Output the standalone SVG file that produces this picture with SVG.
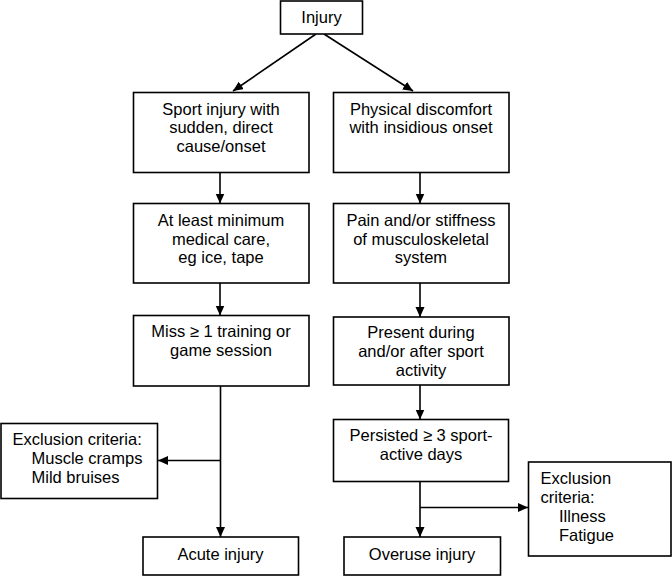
<svg xmlns="http://www.w3.org/2000/svg" width="672" height="576" viewBox="0 0 672 576">
<style>
.box{fill:#fff;stroke:#000;stroke-width:1.6}
.t{font-family:"Liberation Sans",Arial,sans-serif;font-size:16.5px;fill:#000}
.c{text-anchor:middle}
.ln{stroke:#000;stroke-width:1.6;fill:none}
</style>
<defs>
<marker id="ah" markerUnits="userSpaceOnUse" markerWidth="11" markerHeight="10" refX="10" refY="4.5" orient="auto">
<path d="M0,0 L10,4.5 L0,9 z" fill="#000"/>
</marker>
</defs>
<rect width="672" height="576" fill="#fff"/>
<g id="connectors">
<line class="ln" x1="316" y1="34" x2="233" y2="91" marker-end="url(#ah)"/>
<line class="ln" x1="324" y1="34" x2="413" y2="91" marker-end="url(#ah)"/>
<line class="ln" x1="220" y1="173" x2="220" y2="203.5" marker-end="url(#ah)"/>
<line class="ln" x1="420" y1="173" x2="420" y2="203.5" marker-end="url(#ah)"/>
<line class="ln" x1="220" y1="283" x2="220" y2="315.5" marker-end="url(#ah)"/>
<line class="ln" x1="420" y1="283" x2="420" y2="317" marker-end="url(#ah)"/>
<line class="ln" x1="220.5" y1="386" x2="220.5" y2="537" marker-end="url(#ah)"/>
<line class="ln" x1="220.5" y1="460.5" x2="158" y2="460.5" marker-end="url(#ah)"/>
<line class="ln" x1="420" y1="385" x2="420" y2="419.5" marker-end="url(#ah)"/>
<line class="ln" x1="420" y1="481.5" x2="420" y2="537" marker-end="url(#ah)"/>
<line class="ln" x1="420" y1="507.5" x2="528" y2="507.5" marker-end="url(#ah)"/>
</g>
<g id="injury">
<rect class="box" x="280.5" y="1" width="82" height="33"/>
<text class="t c" x="321.5" y="23">Injury</text>
</g>
<g id="sport">
<rect class="box" x="133.5" y="92.5" width="175.5" height="80"/>
<text class="t c" x="221" y="114.5">Sport injury with</text>
<text class="t c" x="221" y="133">sudden, direct</text>
<text class="t c" x="221" y="152">cause/onset</text>
</g>
<g id="physical">
<rect class="box" x="333.5" y="92.5" width="175.5" height="80"/>
<text class="t c" x="421" y="114.5">Physical discomfort</text>
<text class="t c" x="421" y="133">with insidious onset</text>
</g>
<g id="care">
<rect class="box" x="133.5" y="203.5" width="175.5" height="79.5"/>
<text class="t c" x="221" y="225.5">At least minimum</text>
<text class="t c" x="221" y="244.5">medical care,</text>
<text class="t c" x="221" y="263">eg ice, tape</text>
</g>
<g id="pain">
<rect class="box" x="333.5" y="203.5" width="175.5" height="79.5"/>
<text class="t c" x="421" y="225.5">Pain and/or stiffness</text>
<text class="t c" x="421" y="244.5">of musculoskeletal</text>
<text class="t c" x="421" y="263">system</text>
</g>
<g id="miss">
<rect class="box" x="133.5" y="315.5" width="175.5" height="70.5"/>
<text class="t c" x="221" y="336.5">Miss ≥ 1 training or</text>
<text class="t c" x="221" y="355.5">game session</text>
</g>
<g id="present">
<rect class="box" x="333.5" y="317" width="175.5" height="68"/>
<text class="t c" x="421" y="337.5">Present during</text>
<text class="t c" x="421" y="356.5">and/or after sport</text>
<text class="t c" x="421" y="376">activity</text>
</g>
<g id="excl-left">
<rect class="box" x="1" y="423.5" width="156.5" height="75"/>
<text class="t" x="12.5" y="445">Exclusion criteria:</text>
<text class="t" x="31.5" y="464">Muscle cramps</text>
<text class="t" x="31.5" y="483">Mild bruises</text>
</g>
<g id="persisted">
<rect class="box" x="333.5" y="419.5" width="175" height="62"/>
<text class="t c" x="421" y="441">Persisted ≥ 3 sport-</text>
<text class="t c" x="421" y="460">active days</text>
</g>
<g id="excl-right">
<rect class="box" x="528.5" y="462" width="142.5" height="94"/>
<text class="t" x="540.5" y="484">Exclusion</text>
<text class="t" x="540.5" y="503">criteria:</text>
<text class="t" x="559" y="521.5">Illness</text>
<text class="t" x="559" y="540.5">Fatigue</text>
</g>
<g id="acute">
<rect class="box" x="143" y="537" width="155.5" height="38"/>
<text class="t c" x="220.5" y="559.5">Acute injury</text>
</g>
<g id="overuse">
<rect class="box" x="344" y="537" width="156.5" height="38"/>
<text class="t c" x="422" y="559.5">Overuse injury</text>
</g>
</svg>
